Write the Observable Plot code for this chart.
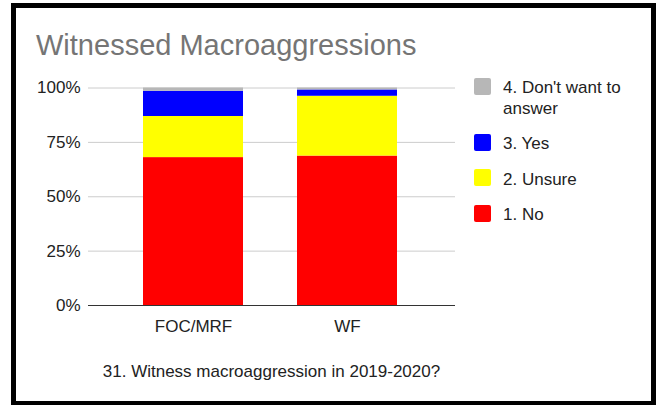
<!DOCTYPE html>
<html>
<head>
<meta charset="utf-8">
<script src="https://cdn.jsdelivr.net/npm/d3@7"></script>
<script src="https://cdn.jsdelivr.net/npm/@observablehq/plot@0.6"></script>
<style>
  html, body { margin: 0; padding: 0; background: #fff; }
  body { width: 660px; height: 405px; position: relative; overflow: hidden; font-family: "Liberation Sans", Arial, sans-serif; }
  #frame { position: absolute; left: 11px; top: 3px; width: 645px; height: 403px; box-sizing: border-box; border: 5px solid #000; }
  #chart { position: absolute; left: 0; top: 0; }
  #title { position: absolute; left: 36px; top: 31px; font-size: 29px; line-height: 29px; color: #757575; white-space: nowrap; }
  #caption { position: absolute; left: 88px; width: 367px; top: 362.6px; font-size: 17px; line-height: 17px; color: #222; text-align: center; white-space: nowrap; }
  .lg-sw { position: absolute; left: 474px; width: 17px; height: 17px; border-radius: 2px; }
  .lg-tx { position: absolute; left: 503px; font-size: 17px; line-height: 21px; color: #222; white-space: nowrap; }
</style>
</head>
<body>
<div id="chart"></div>
<div id="frame"></div>
<div id="title">Witnessed Macroaggressions</div>
<div id="caption">31. Witness macroaggression in 2019-2020?</div>
<div id="legend"></div>
<script>
// Data (percent of respondents)
const categories = ["FOC/MRF", "WF"];
const answers = ["1. No", "2. Unsure", "3. Yes", "4. Don't want to answer"];
const colors = ["#ff0000", "#ffff00", "#0000ff", "#b7b7b7"];
const noValues = [68.0, 68.7];
const unsureValues = [18.9, 27.5];
const yesValues = [11.6, 2.9];
const dwaValues = [1.5, 0.9];
const yTicks = [0, 25, 50, 75, 100];

const series = [noValues, unsureValues, yesValues, dwaValues];
const data = [];
categories.forEach((c, i) => {
  answers.forEach((a, j) => data.push({cat: c, answer: a, value: series[j][i]}));
});

const chart = Plot.plot({
  width: 660,
  height: 405,
  marginLeft: 88,
  marginRight: 205,
  marginTop: 87.5,
  marginBottom: 100,
  style: {fontFamily: "Liberation Sans, Arial, sans-serif", fontSize: "17px", color: "#222", background: "transparent"},
  x: {domain: categories, paddingInner: 0.353, paddingOuter: 0.363, align: 0.487, label: null, tickSize: 0, tickPadding: 14},
  y: {domain: [0, 100], ticks: yTicks, tickFormat: d => d + "%", label: null, tickSize: 0, tickPadding: 8},
  color: {domain: answers, range: colors},
  marks: [
    Plot.ruleY(yTicks.filter(d => d > 0), {stroke: "#cccccc", strokeWidth: 1}),
    Plot.barY(data, {x: "cat", y: "value", fill: "answer", inset: 0}),
    Plot.ruleY([0], {stroke: "#333333", strokeWidth: 1})
  ]
});
document.getElementById("chart").appendChild(chart);

// Legend (top-down: reverse order of stack)
const legend = document.getElementById("legend");
const swTops = [205, 169, 134, 78];
const txTops = [203.9, 168.6, 132.9, 76.6];
const labelsHtml = ["1. No", "2. Unsure", "3. Yes", "4. Don't want to<br>answer"];
answers.forEach((a, j) => {
  const sw = document.createElement("div");
  sw.className = "lg-sw";
  sw.style.top = swTops[j] + "px";
  sw.style.background = colors[j];
  legend.appendChild(sw);
  const tx = document.createElement("div");
  tx.className = "lg-tx";
  tx.style.top = txTops[j] + "px";
  tx.innerHTML = labelsHtml[j];
  legend.appendChild(tx);
});
</script>
</body>
</html>
